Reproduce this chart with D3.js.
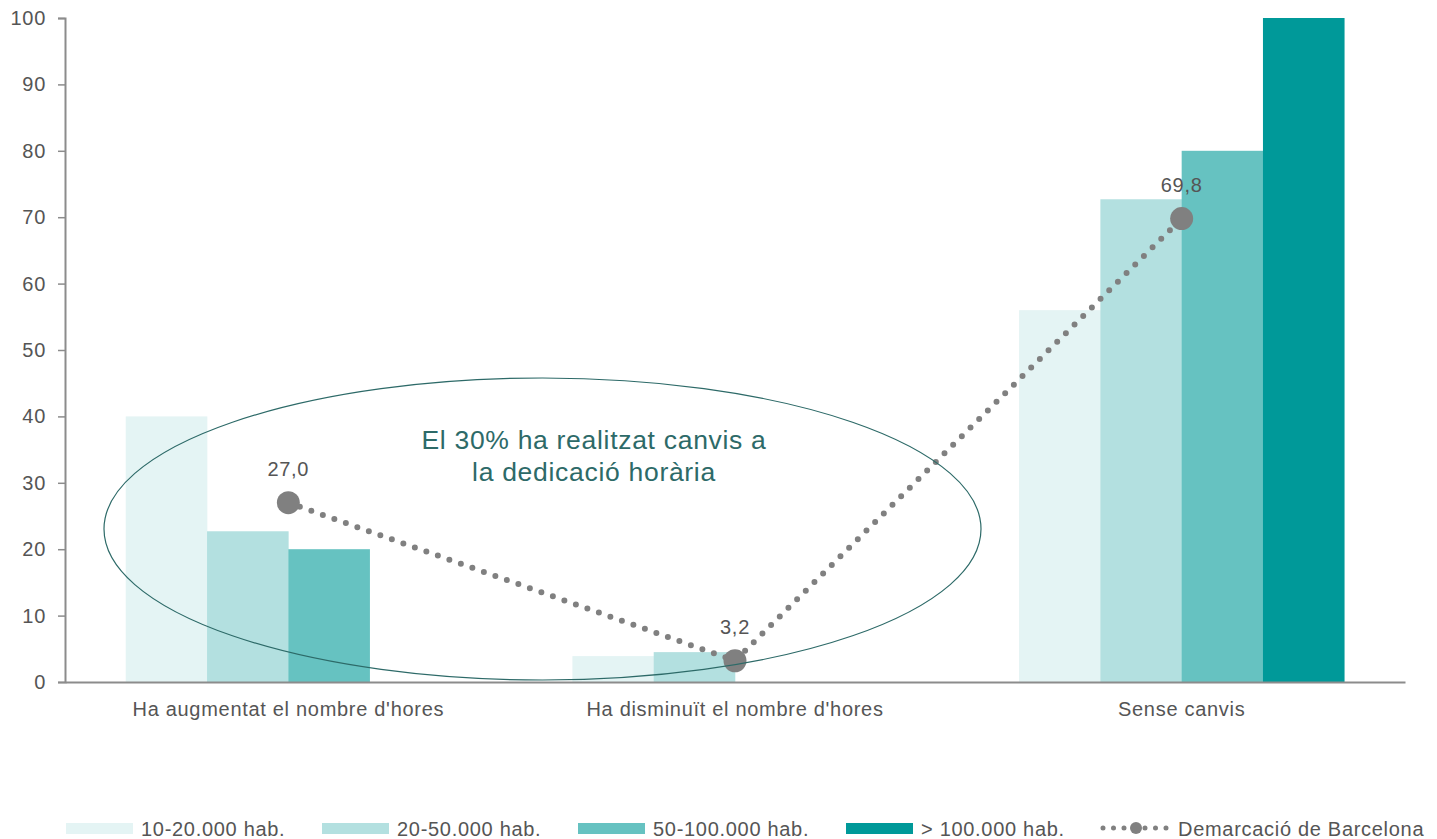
<!DOCTYPE html>
<html><head><meta charset="utf-8">
<script src="https://cdn.jsdelivr.net/npm/d3@7/dist/d3.min.js"></script>
<style>
body{margin:0;background:#fff;}
text{font-family:"Liberation Sans",Arial,sans-serif;}
</style></head>
<body><svg id="c" width="1437" height="839"></svg>
<script>
const categories = ["Ha augmentat el nombre d'hores","Ha disminuït el nombre d'hores","Sense canvis"];
const seriesNames = ["10-20.000 hab.","20-50.000 hab.","50-100.000 hab.","> 100.000 hab."];
const s1 = [40, 3.9, 56];
const s2 = [22.7, 4.5, 72.7];
const s3 = [20, 0, 80];
const s4 = [0, 0, 100];
const lineName = "Demarcació de Barcelona";
const lineValues = [27.0, 3.2, 69.8];
const lineLabels = ["27,0","3,2","69,8"];
const yTicks = [0,10,20,30,40,50,60,70,80,90,100];
const annotation = ["El 30% ha realitzat canvis a","la dedicació horària"];
const colors = ["#e4f4f4","#b3e0e0","#66c2c1","#009999"];

(function(){
const svg = d3.select("#c");
const mL = 65, mR = 1405, mT = 18, mB = 682;
const FS = 20, LS = "0.7px", TXT = "#555";
const y = d3.scaleLinear().domain([0,100]).range([mB, mT]);
const x0 = d3.scaleBand().domain(categories).range([mL, mR]).paddingInner(0).paddingOuter(0);
const groupW = x0.bandwidth()*0.728;
const x1 = d3.scaleBand().domain(seriesNames).range([0, groupW]);
const series = [s1,s2,s3,s4];

series.forEach((vals, si) => {
  svg.append("g").selectAll("rect").data(vals).join("rect")
    .attr("x", (d,i) => x0(categories[i]) + (x0.bandwidth()-groupW)/2 + x1(seriesNames[si]))
    .attr("y", d => y(d))
    .attr("width", x1.bandwidth()+0.3)
    .attr("height", d => mB - y(d))
    .attr("fill", colors[si]);
});

const ya = svg.append("g").attr("transform", `translate(${mL},0)`)
  .call(d3.axisLeft(y).tickValues(yTicks).tickSize(7).tickPadding(12));
ya.select(".domain").attr("stroke","#8c8c8c").attr("stroke-width",2);
ya.selectAll(".tick line").attr("stroke","#8c8c8c").attr("stroke-width",1.5);
ya.selectAll(".tick text").attr("font-size",FS).attr("fill",TXT).attr("letter-spacing",LS).attr("font-family","Liberation Sans, Arial, sans-serif");

const xa = svg.append("g").attr("transform", `translate(0,${mB})`)
  .call(d3.axisBottom(x0).tickSize(0).tickPadding(20));
xa.select(".domain").attr("stroke","#8c8c8c").attr("stroke-width",2);
xa.selectAll(".tick text").attr("font-size",FS).attr("fill",TXT).attr("letter-spacing",LS).attr("font-family","Liberation Sans, Arial, sans-serif");

const cx = i => x0(categories[i]) + x0.bandwidth()/2;
const lineGen = d3.line().x((d,i)=>cx(i)).y(d=>y(d));
svg.append("path").datum(lineValues).attr("d", lineGen)
  .attr("fill","none").attr("stroke","#808080").attr("stroke-width",6)
  .attr("stroke-linecap","round").attr("stroke-dasharray","0 12.2");
svg.append("g").selectAll("circle").data(lineValues).join("circle")
  .attr("cx",(d,i)=>cx(i)).attr("cy",d=>y(d)).attr("r",11.5).attr("fill","#808080");
svg.append("g").selectAll("text").data(lineValues).join("text")
  .attr("x",(d,i)=>cx(i)).attr("y",d=>y(d)-27)
  .attr("text-anchor","middle").attr("font-size",FS).attr("letter-spacing",LS).attr("fill",TXT)
  .text((d,i)=>lineLabels[i]);

svg.append("ellipse").attr("cx",542.5).attr("cy",529).attr("rx",438.5).attr("ry",151)
  .attr("fill","none").attr("stroke","#2d6a68").attr("stroke-width",1.2);
svg.append("g").selectAll("text").data(annotation).join("text")
  .attr("x",594).attr("y",(d,i)=>449+i*32).attr("text-anchor","middle")
  .attr("font-size",26.5).attr("letter-spacing","0.7px").attr("fill","#2d6a68").text(d=>d);

const lg = svg.append("g");
const lx = [66, 322, 578, 846];
seriesNames.forEach((n,i)=>{
  lg.append("rect").attr("x",lx[i]).attr("y",823).attr("width",67).attr("height",11).attr("fill",colors[i]);
  lg.append("text").attr("x",lx[i]+75).attr("y",836).attr("font-size",FS).attr("letter-spacing",LS).attr("fill",TXT).text(n);
});
lg.append("line").attr("x1",1103).attr("x2",1170).attr("y1",828).attr("y2",828)
  .attr("stroke","#808080").attr("stroke-width",5).attr("stroke-linecap","round").attr("stroke-dasharray","0 10.5");
lg.append("circle").attr("cx",1136).attr("cy",828).attr("r",6).attr("fill","#808080");
lg.append("text").attr("x",1178).attr("y",836).attr("font-size",FS).attr("letter-spacing",LS).attr("fill",TXT).text(lineName);
})();
</script></body></html>
